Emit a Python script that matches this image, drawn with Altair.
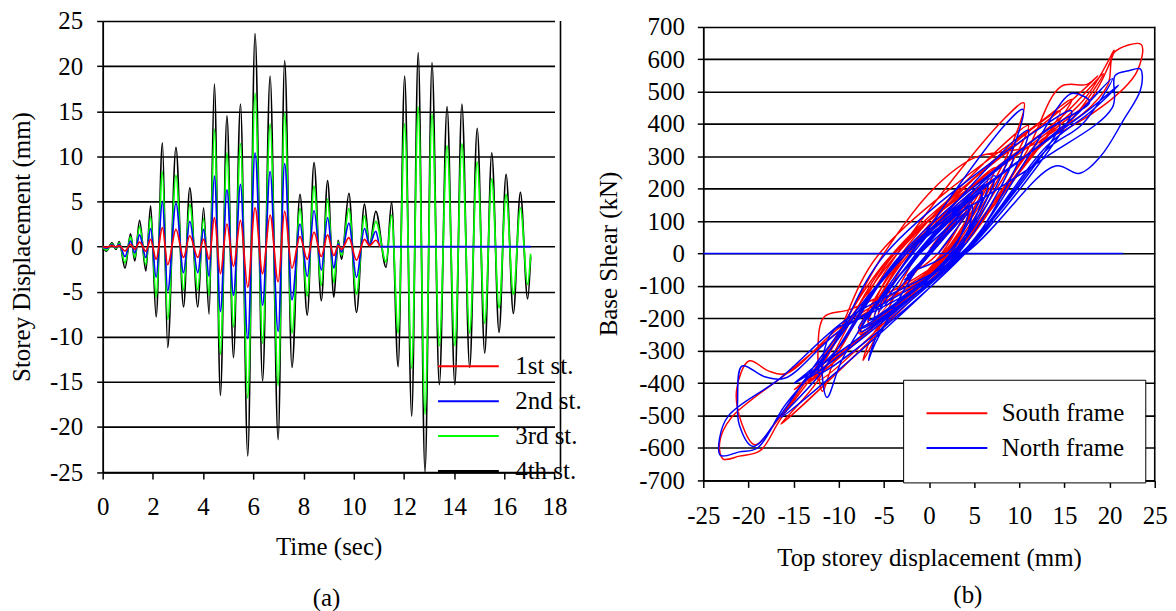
import altair as alt
import pandas as pd

FONT = "Liberation Serif"

# ---------------- (a) storey displacement time histories ----------------
# time of each extremum (s)
t_main = [0.00, 0.15, 0.37, 0.53, 0.66, 0.89, 1.11, 1.28, 1.47, 1.72,
          1.91, 2.13, 2.38, 2.59, 2.92, 3.22, 3.47, 3.79, 4.02, 4.24,
          4.45, 4.69, 4.95, 5.21, 5.49, 5.78, 6.07, 6.37, 6.67, 6.99,
          7.25, 7.54, 7.86, 8.15, 8.42, 8.71, 8.96, 9.21, 9.38, 9.52,
          9.81, 10.11, 10.43, 10.63, 10.88,
          11.29, 11.51, 11.77, 12.03, 12.31,
          12.57, 12.84, 13.12, 13.41, 13.72, 14.03, 14.31, 14.62, 14.92, 15.22,
          15.50, 15.79, 16.07, 16.36, 16.64, 16.93, 17.05]
disp_4th = [0.0, -0.5, 0.4, -0.3, 0.55, -2.4, 1.4, -1.6, 2.9, -2.7,
            4.5, -7.8, 11.5, -11.2, 11.0, -6.7, 6.5, -6.7, 4.3, -7.5,
            18.0, -16.5, 14.5, -12.3, 15.8, -23.2, 23.6, -14.9, 18.9, -21.4,
            20.6, -13.4, 5.8, -7.6, 9.3, -6.0, 7.3, -5.6, 0.7, -1.4,
            5.9, -7.3, 4.7, 0.1, 3.9,
            -2.3, 4.9, -13.3, 18.9, -18.8,
            21.5, -25.0, 20.4, -15.3, 15.5, -15.3, 15.8, -13.4, 13.1, -11.8,
            10.4, -9.5, 8.0, -7.4, 6.0, -5.8, -1.1]
disp_3rd = [0.0, -0.4, 0.3, -0.2, 0.4, -1.8, 1.1, -1.2, 2.2, -2.0,
            3.3, -5.6, 8.3, -8.1, 7.9, -4.8, 4.7, -4.8, 3.1, -5.4,
            13.0, -11.9, 10.4, -8.9, 11.4, -16.8, 17.0, -10.7, 13.6, -15.4,
            14.8, -9.6, 4.2, -5.5, 6.7, -4.3, 5.3, -4.0, 0.5, -1.0,
            4.2, -5.3, 3.4, 0.1, 2.8,
            -1.7, 3.5, -9.6, 13.6, -13.5,
            15.5, -18.6, 14.7, -11.0, 11.2, -11.0, 11.4, -9.6, 9.4, -8.5,
            7.5, -6.8, 5.8, -5.3, 4.3, -4.2, -0.8]
t_2nd = [0.00, 0.15, 0.37, 0.53, 0.66, 0.89, 1.11, 1.28, 1.47, 1.72,
         1.91, 2.13, 2.38, 2.59, 2.92, 3.22, 3.47, 3.79, 4.02, 4.24,
         4.45, 4.69, 4.95, 5.21, 5.49, 5.78, 6.07, 6.37, 6.67, 6.99,
         7.25, 7.54, 7.86, 8.15, 8.42, 8.71, 8.96, 9.21, 9.38, 9.52,
         9.81, 10.11, 10.43, 10.63, 10.88,
         11.05, 17.05]
disp_2nd = [0.0, -0.2, 0.2, -0.1, 0.25, -1.1, 0.6, -0.7, 1.3, -1.2,
            2.0, -3.4, 5.0, -4.9, 4.8, -2.9, 2.8, -2.9, 1.9, -3.3,
            7.8, -7.2, 6.3, -5.4, 6.9, -10.2, 10.4, -6.5, 8.3, -9.4,
            9.2, -5.9, 2.5, -3.3, 4.0, -2.6, 3.2, -2.4, 0.3, -0.6,
            2.6, -3.4, 2.0, 0.2, 1.7,
            0.0, 0.0]
t_1st = [0.00, 0.15, 0.37, 0.53, 0.66, 0.89, 1.11, 1.28, 1.47, 1.72,
         1.91, 2.13, 2.38, 2.59, 2.92, 3.22, 3.47, 3.79, 4.02, 4.24,
         4.45, 4.69, 4.95, 5.21, 5.49, 5.78, 6.07, 6.37, 6.67, 6.99,
         7.25, 7.54, 7.86, 8.15, 8.42, 8.71, 8.96, 9.21, 9.38, 9.52,
         9.81, 10.11, 10.43, 10.63, 10.88,
         11.05]
disp_1st = [0.0, -0.1, 0.1, -0.05, 0.1, -0.5, 0.25, -0.3, 0.5, -0.5,
            0.8, -1.4, 2.1, -2.0, 1.9, -1.2, 1.2, -1.2, 0.8, -1.4,
            3.2, -3.0, 2.5, -2.2, 2.9, -4.5, 4.3, -3.0, 3.5, -3.9,
            3.9, -2.4, 1.1, -1.4, 1.6, -1.1, 1.3, -1.0, 0.1, -0.3,
            1.0, -1.5, 0.8, 0.1, 0.7,
            0.0]

storey_names = ["1st st.", "2nd st.", "3rd st.", "4th st."]
storey_colors = ["#ff0000", "#0000ff", "#00ff00", "#000000"]
time_ticks = [0, 2, 4, 6, 8, 10, 12, 14, 16, 18]
disp_ticks = [-25, -20, -15, -10, -5, 0, 5, 10, 15, 20, 25]

# ---------------- (b) base shear vs top storey displacement ----------------
south_d = [0.0, -0.5, 0.4, -0.3, 0.55, -2.4, 1.4, -1.6, 2.9, -2.7,
           4.5, -2.5, -7.8, 1.8, 8.6, 10.5, 8.3, -3.5, -10.5, -11.8,
           -12.3, -11.6, -8.5, 2.2, 11.0, -3.0, -6.7, 1.6, 6.5, -2.5,
           -6.7, 1.4, 4.3, -2.2, -7.5, 2.6, 10.5, 14.6, 17.5, 18.7,
           15.5, -4.0, -12.5, -16.4, 2.8, 14.5, -3.5, -12.3, 2.5, 15.8,
           13.0, -5.5, -11.0, -16.5, -18.7, -21.0, -22.8, -23.2, -22.0, -15.6,
           -9.0, 3.0, 12.0, 17.0, 19.8, 20.5, 23.5, 23.0, 19.0, 11.0,
           5.0, 0.5, -5.0, -12.0, -14.9, 2.8, 12.0, 16.0, 19.3, 15.0,
           -4.0, -12.0, -16.7, -19.3, -20.8, -21.3, -19.9, -17.8, -15.9, -10.0,
           2.5, 13.0, 18.0, 20.5, 17.0, -3.8, -10.0, -13.4, 2.0, 5.8,
           -2.2, -7.6, 2.2, 9.3, -2.6, -6.0, 1.8, 7.3, -2.0, -5.6,
           0.7, -1.4, 1.0, 5.9, -1.2, -6.5, -7.3, -6.0, 2.3, 4.7,
           0.1, 3.9, -2.3, 4.9, 0.0]
south_v = [0, -15, 12, -10, 18, -75, 45, -55, 95, -90,
           150, 0, -245, 0, 300, 465, 415, 0, -330, -425,
           -300, -195, -170, 0, 395, 0, -215, 0, 235, 0,
           -220, 0, 160, 0, -245, 0, 300, 515, 522, 548,
           465, 0, -400, -526, 0, 440, 0, -390, 0, 475,
           420, 0, -300, -513, -608, -625, -634, -585, -510, -367,
           -220, 0, 340, 430, 520, 620, 645, 560, 450, 330,
           295, 200, 0, -340, -420, 0, 320, 420, 555, 430,
           0, -330, -511, -590, -520, -418, -331, -362, -371, -230,
           0, 360, 480, 627, 470, 0, -300, -400, 0, 205,
           0, -250, 0, 330, 0, -205, 0, 265, 0, -190,
           30, -50, 0, 210, 0, -290, -330, -240, 0, 165,
           15, 135, -85, 170, 0]
north_d = [0.0, -0.5, 0.4, -0.3, 0.55, -2.4, 1.4, -1.6, 2.9, -2.7,
           4.5, -1.0, -7.8, 2.8, 8.8, 10.4, 8.5, -2.0, -9.5, -11.3,
           -11.8, -10.5, -8.0, 3.8, 11.0, -1.8, -6.7, 2.6, 6.5, -1.3,
           -6.7, 2.4, 4.3, -1.2, -7.5, 3.6, 11.0, 14.5, 15.8, 17.8,
           13.0, -3.0, -12.0, -16.4, 3.8, 14.5, -2.5, -12.3, 4.0, 15.8,
           13.0, -4.8, -11.0, -16.0, -19.0, -21.0, -23.1, -23.2, -22.2, -16.5,
           -9.0, 4.0, 14.0, 16.6, 19.0, 21.5, 23.4, 23.6, 23.4, 22.1,
           20.6, 20.3, 12.0, -2.5, -12.0, -14.9, 3.8, 13.0, 17.0, 20.3,
           16.0, -2.5, -12.0, -16.5, -19.5, -21.0, -21.2, -20.7, -18.2, -16.0,
           -10.0, 3.5, 13.0, 18.0, 21.0, 18.0, -2.8, -10.0, -13.4, 3.0,
           5.8, -1.2, -7.6, 3.2, 9.3, -1.4, -6.0, 2.8, 7.3, -1.0,
           -5.6, 0.7, -1.4, 2.0, 5.9, -0.2, -6.0, -6.7, -5.5, 3.3,
           4.7, 0.1, 3.9, -2.3, 4.9, 1.0]
north_v = [0, -14, 11, -9, 16, -68, 40, -50, 85, -82,
           135, 0, -230, 0, 290, 445, 400, 0, -320, -444,
           -330, -235, -205, 0, 380, 0, -205, 0, 215, 0,
           -205, 0, 140, 0, -230, 0, 300, 460, 494, 469,
           380, 0, -370, -505, 0, 400, 0, -370, 0, 440,
           400, 0, -300, -470, -600, -612, -623, -570, -500, -385,
           -200, 0, 270, 247, 300, 410, 503, 555, 570, 564,
           549, 450, 280, 0, -330, -400, 0, 320, 400, 540,
           420, 0, -320, -500, -595, -530, -450, -347, -380, -385,
           -240, 0, 330, 440, 520, 450, 0, -290, -385, 0,
           185, 0, -240, 0, 300, 0, -195, 0, 240, 0,
           -180, 25, -45, 0, 190, 0, -280, -329, -240, 0,
           150, 10, 120, -80, 150, 0]
# flat record drawn by the North frame along zero shear
zero_d = [-25.0, 21.5]
zero_v = [0, 0]

frame_names = ["South frame", "North frame"]
frame_colors = ["#ff0000", "#0000ff"]
shear_ticks = list(range(-700, 701, 100))
top_ticks = [-25, -20, -15, -10, -5, 0, 5, 10, 15, 20, 25]

# ---------------- tables ----------------
rows_a = []
for name, ts, vs in [("4th st.", t_main, disp_4th), ("3rd st.", t_main, disp_3rd),
                     ("2nd st.", t_2nd, disp_2nd), ("1st st.", t_1st, disp_1st)]:
    for t, v in zip(ts, vs):
        rows_a.append({"t": t, "v": v, "storey": name})
df_a = pd.DataFrame(rows_a)

rows_b = []
for name, ds, vs in [("South frame", south_d, south_v), ("North frame", north_d, north_v)]:
    for i, (d, v) in enumerate(zip(ds, vs)):
        rows_b.append({"d": d, "v": v, "frame": name, "seg": name + " loop", "idx": i})
for i, (d, v) in enumerate(zip(zero_d, zero_v)):
    rows_b.append({"d": d, "v": v, "frame": "North frame", "seg": "North frame zero", "idx": i})
df_b = pd.DataFrame(rows_b)

minus_expr = "datum.value < 0 ? '-' + abs(datum.value) : '' + datum.value"

# ---------------- chart (a) ----------------
W_A, H_A = 453.4, 452.7
x_a = alt.X("t:Q", scale=alt.Scale(domain=[0, 18], nice=False, zero=False),
            axis=alt.Axis(values=time_ticks, title="Time (sec)", grid=False,
                          tickSize=7, tickWidth=1.5, domainWidth=1.8,
                          labelPadding=16, titlePadding=15,
                          labelFlush=False, labelOverlap=False))
y_a = alt.Y("v:Q", scale=alt.Scale(domain=[-25, 25], nice=False, zero=False),
            axis=alt.Axis(values=disp_ticks, title="Storey Displacement (mm)",
                          grid=True, gridColor="black", gridWidth=1.6,
                          tickSize=6, tickWidth=1.5, domainWidth=1.8,
                          labelPadding=14, titlePadding=15,
                          labelOverlap=False, labelExpr=minus_expr))
legend_a = alt.Legend(orient="none", legendX=334, legendY=334, title=None,
                      symbolType="M-1,0H5.1", symbolSize=400, symbolStrokeWidth=2,
                      labelOffset=55, rowPadding=9, padding=0)
color_a = alt.Color("storey:N", scale=alt.Scale(domain=storey_names, range=storey_colors),
                    legend=legend_a)

layers_a = []
for s in ["4th st.", "3rd st.", "2nd st.", "1st st."]:
    layers_a.append(
        alt.Chart(df_a).transform_filter(alt.datum.storey == s)
        .mark_line(interpolate="monotone", strokeWidth=1.7)
        .encode(x=x_a, y=y_a, color=color_a)
    )
edge_a = alt.Chart(pd.DataFrame({"k": [0]})).mark_rule(color="black", strokeWidth=1.6).encode(
    x=alt.value(459.4), y=alt.value(0), y2=alt.value(H_A))

chart_a = alt.layer(*layers_a, edge_a).properties(
    width=W_A, height=H_A,
    title=alt.TitleParams("(a)", orient="bottom", anchor="middle", frame="group",
                          offset=26, dx=-2))

# ---------------- chart (b) ----------------
W_B, H_B = 453.0, 461.0
x_b = alt.X("d:Q", scale=alt.Scale(domain=[-25, 25], nice=False, zero=False),
            axis=alt.Axis(values=top_ticks, title="Top storey displacement (mm)", grid=False,
                          tickSize=7, tickWidth=1.5, domainWidth=1.8,
                          labelPadding=16, titlePadding=17,
                          labelFlush=False, labelOverlap=False, labelExpr=minus_expr))
y_b = alt.Y("v:Q", scale=alt.Scale(domain=[-700, 700], range=[H_B, 5.7], nice=False, zero=False),
            axis=alt.Axis(values=shear_ticks, title="Base Shear (kN)",
                          grid=True, gridColor="black", gridWidth=1.6,
                          tickSize=6, tickWidth=1.5, domainWidth=1.8,
                          labelPadding=13, titlePadding=17,
                          labelOverlap=False, labelExpr=minus_expr))
legend_b = alt.Legend(orient="none", legendX=200.5, legendY=360, title=None,
                      symbolType="M-1,0H5.1", symbolSize=400, symbolStrokeWidth=2,
                      labelOffset=53, rowPadding=9, padding=21,
                      fillColor="white", strokeColor="black")
color_b = alt.Color("frame:N", scale=alt.Scale(domain=frame_names, range=frame_colors),
                    legend=legend_b)

layers_b = []
for f in ["South frame", "North frame"]:
    layers_b.append(
        alt.Chart(df_b).transform_filter(alt.datum.frame == f)
        .mark_line(interpolate="catmull-rom", strokeWidth=1.5)
        .encode(x=x_b, y=y_b, color=color_b, detail="seg:N", order="idx:Q")
    )
edge_b = alt.Chart(pd.DataFrame({"k": [0]})).mark_rule(color="black", strokeWidth=1.6).encode(
    x=alt.value(W_B), y=alt.value(5.7), y2=alt.value(H_B))

chart_b = alt.layer(*layers_b, edge_b).properties(
    width=W_B, height=H_B,
    title=alt.TitleParams("(b)", orient="bottom", anchor="middle", frame="group",
                          offset=13, dx=39))

chart = (
    alt.hconcat(chart_a, chart_b, spacing=148.7, bounds="flush")
    .resolve_scale(color="independent")
    .properties(padding={"left": 1, "top": 0, "right": 0, "bottom": 0})
    .configure_view(stroke=None)
    .configure_axis(labelFont=FONT, titleFont=FONT, labelFontSize=25, titleFontSize=25,
                    titleFontWeight="normal", labelColor="black", titleColor="black",
                    domainColor="black", tickColor="black")
    .configure_legend(labelFont=FONT, labelFontSize=25, labelColor="black", labelLimit=400)
    .configure_title(font=FONT, fontSize=25, fontWeight="normal", color="black")
)

chart.save("out.html", embed_options={"renderer": "svg", "actions": False})
